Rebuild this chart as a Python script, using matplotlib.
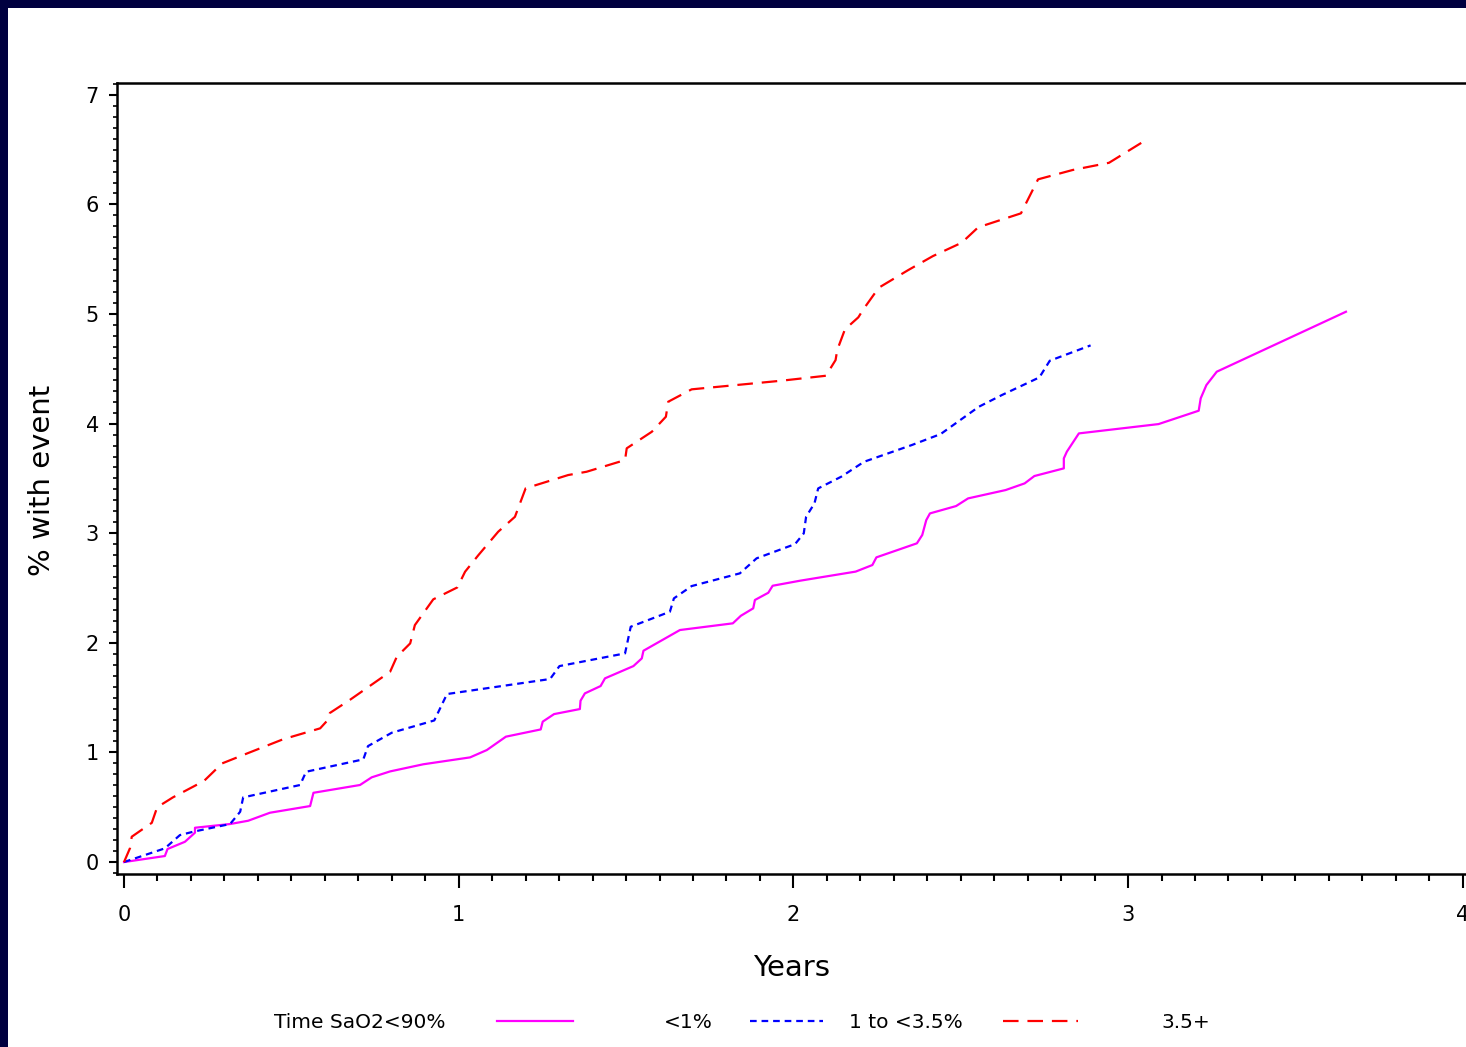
import matplotlib
matplotlib.use("Agg")
import matplotlib.pyplot as plt
from matplotlib.patches import Rectangle
from matplotlib.lines import Line2D
from matplotlib.ticker import MultipleLocator

# time (years) / cumulative % with event
years_lt1 = [0, 0.122, 0.130, 0.182, 0.212, 0.212, 0.317, 0.371, 0.436, 0.556, 0.566,
             0.705, 0.740, 0.795, 0.894, 1.034, 1.084, 1.141, 1.245, 1.251, 1.285,
             1.362, 1.364, 1.377, 1.424, 1.437, 1.522, 1.547, 1.552, 1.661, 1.819,
             1.843, 1.880, 1.885, 1.925, 1.938, 2.020, 2.186, 2.236, 2.248, 2.369,
             2.385, 2.397, 2.408, 2.486, 2.522, 2.634, 2.691, 2.720, 2.808, 2.808,
             2.817, 2.853, 3.091, 3.211, 3.217, 3.234, 3.265, 3.651]
pct_lt1 = [0, 0.055, 0.119, 0.185, 0.268, 0.313, 0.347, 0.377, 0.45, 0.511, 0.632,
           0.703, 0.773, 0.827, 0.892, 0.955, 1.022, 1.144, 1.210, 1.281, 1.350,
           1.396, 1.472, 1.539, 1.606, 1.676, 1.788, 1.858, 1.928, 2.117, 2.178,
           2.247, 2.315, 2.391, 2.457, 2.521, 2.567, 2.650, 2.710, 2.780, 2.908,
           2.984, 3.120, 3.181, 3.248, 3.318, 3.394, 3.455, 3.522, 3.592, 3.683,
           3.744, 3.911, 3.996, 4.118, 4.231, 4.352, 4.474, 5.021]

years_mid = [0, 0.122, 0.167, 0.207, 0.317, 0.347, 0.356, 0.526, 0.544, 0.715, 0.729,
             0.800, 0.927, 0.965, 1.273, 1.301, 1.497, 1.514, 1.631, 1.643, 1.696,
             1.840, 1.890, 2.005, 2.031, 2.038, 2.063, 2.074, 2.143, 2.211, 2.354,
             2.440, 2.554, 2.623, 2.735, 2.766, 2.888]
pct_mid = [0, 0.125, 0.246, 0.277, 0.347, 0.459, 0.590, 0.703, 0.824, 0.937, 1.058,
           1.180, 1.292, 1.533, 1.670, 1.788, 1.904, 2.147, 2.284, 2.406, 2.518,
           2.634, 2.771, 2.901, 2.999, 3.151, 3.273, 3.409, 3.516, 3.652, 3.805,
           3.905, 4.154, 4.261, 4.422, 4.574, 4.714]

years_hi = [0, 0.018, 0.023, 0.083, 0.099, 0.146, 0.239, 0.293, 0.367, 0.475, 0.586,
            0.610, 0.615, 0.675, 0.795, 0.815, 0.855, 0.869, 0.924, 0.996, 1.019,
            1.059, 1.118, 1.168, 1.200, 1.327, 1.382, 1.497, 1.502, 1.577, 1.619,
            1.626, 1.696, 1.965, 2.097, 2.126, 2.131, 2.154, 2.194, 2.209, 2.255,
            2.343, 2.417, 2.503, 2.552, 2.680, 2.731, 2.834, 2.943, 3.045]
pct_hi = [0, 0.128, 0.231, 0.358, 0.50, 0.59, 0.74, 0.90, 0.99, 1.12, 1.22,
          1.30, 1.36, 1.48, 1.736, 1.873, 1.995, 2.162, 2.397, 2.506, 2.649,
          2.801, 3.014, 3.150, 3.410, 3.531, 3.561, 3.668, 3.775, 3.926, 4.063,
          4.200, 4.313, 4.392, 4.437, 4.580, 4.672, 4.860, 4.970, 5.043, 5.240,
          5.401, 5.529, 5.651, 5.791, 5.919, 6.229, 6.314, 6.380, 6.572]

group_labels = ["<1%", "1 to <3.5%", "3.5+"]
legend_title = "Time SaO2<90%"

MAGENTA = "#FF00FF"
BLUE = "#0000FF"
RED = "#FF0000"
NAVY = "#000040"

W, H = 1466, 1047
fig = plt.figure(figsize=(W / 100, H / 100), dpi=100)
fig.patch.set_facecolor("white")

# dark slide frame on the left / top
fig.add_artist(Rectangle((0, 0), 8 / W, 1, transform=fig.transFigure,
                         facecolor=NAVY, edgecolor="none", zorder=10))
fig.add_artist(Rectangle((0, 1 - 8 / H), 1, 8 / H, transform=fig.transFigure,
                         facecolor=NAVY, edgecolor="none", zorder=10))

ax = fig.add_axes([117 / W, 173 / H, (1479.5 - 117) / W, 791 / H])
ax.set_xlim(-0.021, 4.05)
ax.set_ylim(-0.109, 7.108)

styles = [
    dict(color=MAGENTA, linestyle="-"),
    dict(color=BLUE, linestyle=(0, (3, 2.2))),
    dict(color=RED, linestyle=(0, (7, 4))),
]
series = [(years_lt1, pct_lt1), (years_mid, pct_mid), (years_hi, pct_hi)]
for (xs, ys), st in zip(series, styles):
    ax.plot(xs, ys, linewidth=1.6, **st)

ax.xaxis.set_major_locator(MultipleLocator(1))
ax.xaxis.set_minor_locator(MultipleLocator(0.1))
ax.yaxis.set_major_locator(MultipleLocator(1))
ax.yaxis.set_minor_locator(MultipleLocator(0.1))
ax.set_xticks([0, 1, 2, 3, 4])
ax.set_yticks(range(8))

for s in ax.spines.values():
    s.set_linewidth(1.8)
ax.spines["right"].set_visible(False)

ax.tick_params(axis="x", which="major", direction="out", length=10, width=1.5,
               pad=12, labelsize=15)
ax.tick_params(axis="x", which="minor", direction="out", length=5, width=1.5)
ax.tick_params(axis="y", which="major", direction="out", length=6, width=1.5,
               pad=7, labelsize=15)
ax.tick_params(axis="y", which="minor", direction="out", length=3, width=1.2)

ax.set_xlabel("Years", fontsize=21, va="center")
ax.xaxis.set_label_coords(0.495, -0.119)
ax.set_ylabel("% with event", fontsize=21, va="center")
ax.yaxis.set_label_coords(-0.055, 0.498)

# legend row along the bottom
ly = 1 - 1023 / H
fig.text(274 / W, ly, legend_title, fontsize=14.5, ha="left", va="center")
key_x = [(497, 573), (750, 823), (1003, 1078)]
label_cx = [688, 906, 1186]
for (x0, x1), cx, lab, st in zip(key_x, label_cx, group_labels, styles):
    fig.add_artist(Line2D([x0 / W, x1 / W], [ly + 2 / H, ly + 2 / H],
                          transform=fig.transFigure, linewidth=1.6, **st))
    fig.text(cx / W, ly, lab, fontsize=14.5, ha="center", va="center")

fig.savefig("out.png", dpi=100, facecolor="white")
